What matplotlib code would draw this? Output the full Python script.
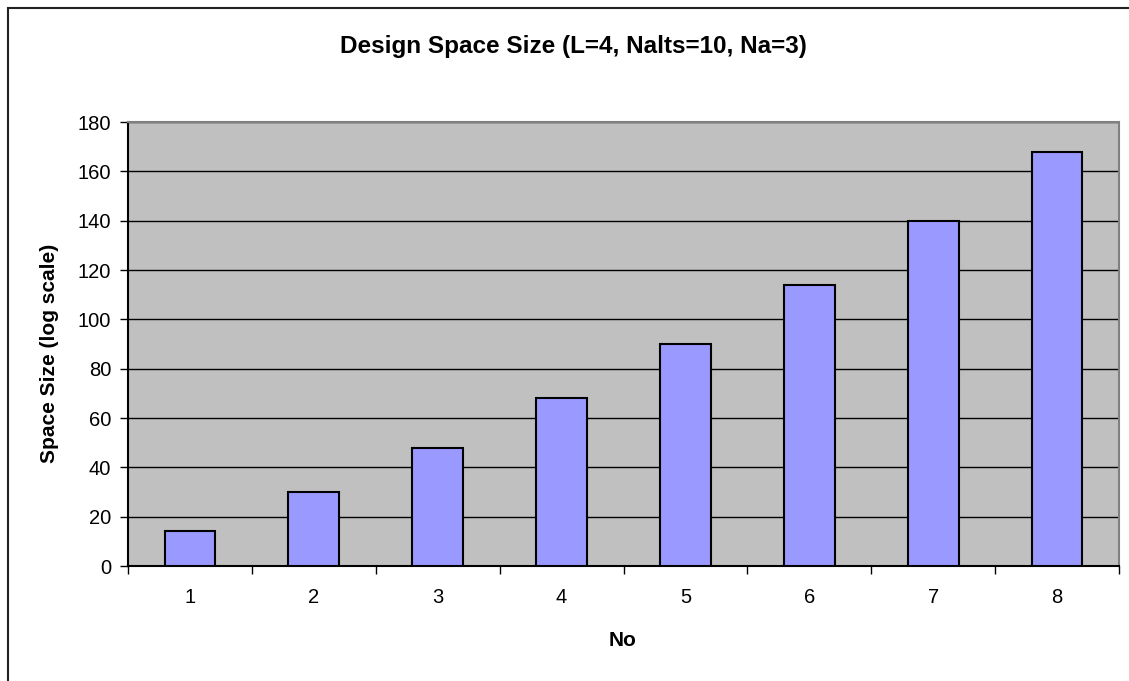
import matplotlib
matplotlib.use("Agg")
import matplotlib.pyplot as plt
from matplotlib.patches import Rectangle

plt.rcParams['font.family'] = ['Liberation Sans', 'DejaVu Sans']

# Data
categories = ['1', '2', '3', '4', '5', '6', '7', '8']
space_size = [14, 30, 48, 68, 90, 114, 140, 168]
y_ticks = [0, 20, 40, 60, 80, 100, 120, 140, 160, 180]

W, H = 1129, 681
fig = plt.figure(figsize=(W / 100, H / 100), dpi=100)
fig.patch.set_facecolor('white')

# Chart frame (extends past right and bottom edges)
fig.add_artist(Rectangle((8 / W, -0.1), 1.2, (H - 8) / H + 0.1,
                         transform=fig.transFigure, fill=False,
                         edgecolor='#222222', linewidth=1.5, clip_on=False))

left, right, top, bottom = 128, 1119, 122, 566
ax = fig.add_axes([left / W, 1 - bottom / H, (right - left) / W, (bottom - top) / H])
ax.set_facecolor('#C0C0C0')

x = list(range(len(categories)))
ax.bar(x, space_size, width=0.41, color='#9999FF', edgecolor='black',
       linewidth=1.5, zorder=3)

ax.set_xlim(-0.5, len(categories) - 0.5)
ax.set_ylim(0, 180)
ax.set_yticks(y_ticks)
ax.set_yticklabels([str(v) for v in y_ticks], fontsize=14.5)
ax.yaxis.grid(True, color='black', linewidth=1.0, zorder=1)
ax.set_axisbelow(True)

ax.set_xticks(x)
ax.set_xticklabels(categories, fontsize=14.5)
ax.tick_params(axis='x', which='major', length=0, pad=16)
ax.set_xticks([i - 0.5 for i in range(len(categories) + 1)], minor=True)
ax.tick_params(axis='x', which='minor', length=6, width=1, color='black')
ax.tick_params(axis='y', length=6, width=1, color='black', pad=6)

for s in ('top', 'right'):
    ax.spines[s].set_color('#808080')
    ax.spines[s].set_linewidth(1.5)
for s in ('left', 'bottom'):
    ax.spines[s].set_color('black')
    ax.spines[s].set_linewidth(1.5)

fig.text(573 / W, 1 - 46 / H, 'Design Space Size (L=4, Nalts=10, Na=3)',
         ha='center', va='center', fontsize=17.5, fontweight='bold')
fig.text(623 / W, 1 - 641 / H, 'No', ha='center', va='center',
         fontsize=15, fontweight='bold')
fig.text(50 / W, 1 - 353 / H, 'Space Size (log scale)', ha='center', va='center',
         rotation=90, fontsize=15, fontweight='bold')

fig.savefig('out.png', dpi=100)
